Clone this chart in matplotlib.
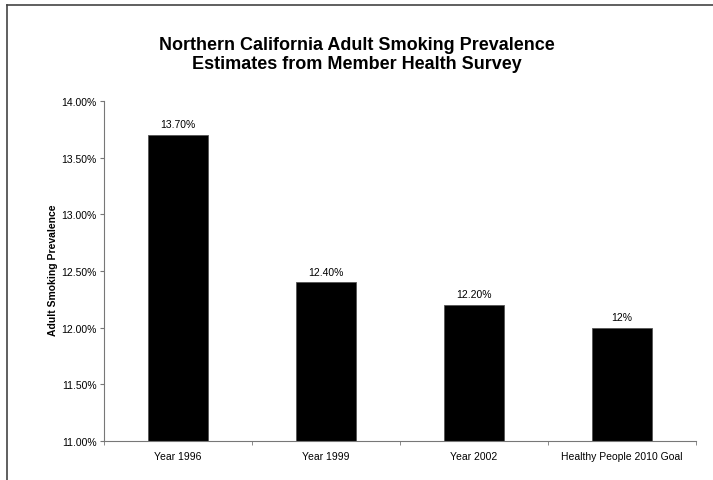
import matplotlib
matplotlib.use("Agg")
import matplotlib.pyplot as plt
from matplotlib.lines import Line2D
from matplotlib.ticker import FuncFormatter, FixedLocator

categories = ["Year 1996", "Year 1999", "Year 2002", "Healthy People 2010 Goal"]
values = [13.70, 12.40, 12.20, 12.00]
bar_labels = ["13.70%", "12.40%", "12.20%", "12%"]
yticks = [11.0, 11.5, 12.0, 12.5, 13.0, 13.5, 14.0]

plt.rcParams['font.family'] = ['Liberation Sans', 'DejaVu Sans']

fig = plt.figure(figsize=(7.13, 4.81), dpi=100)
ax = fig.add_axes([104/713, 1-442/481, (696-104)/713, (442-102)/481])

x = list(range(len(categories)))
ax.bar(x, [v - 11.0 for v in values], bottom=11.0, width=0.4, color='black',
       edgecolor='#555555', linewidth=0.6)
for xi, v, lab in zip(x, values, bar_labels):
    ax.annotate(lab, (xi, v), xytext=(0, 4), textcoords='offset points',
                ha='center', va='bottom', fontsize=7.5)

ax.set_xlim(-0.5, len(categories) - 0.5)
ax.set_ylim(11.0, 14.0)
ax.set_yticks(yticks)
ax.yaxis.set_major_formatter(FuncFormatter(lambda v, p: f"{v:.2f}%"))
ax.set_xticks(x)
ax.set_xticklabels(categories, fontsize=7.5)
ax.tick_params(axis='x', length=0, pad=7)
ax.xaxis.set_minor_locator(FixedLocator([i - 0.5 for i in range(len(categories) + 1)]))
ax.tick_params(axis='x', which='minor', length=3, color='#777777', direction='out')
ax.tick_params(axis='y', labelsize=7.5, length=3, pad=2.5, color='#777777', direction='out')
for s in ['top', 'right']:
    ax.spines[s].set_visible(False)
for s in ['left', 'bottom']:
    ax.spines[s].set_color('#777777')
    ax.spines[s].set_linewidth(0.8)
ax.set_ylabel("Adult Smoking Prevalence", fontsize=7.5, fontweight='bold')
ax.yaxis.set_label_coords(-(104 - 58) / 592, (442 - 270) / 340)

fig.text(0.5, 1-55/481, "Northern California Adult Smoking Prevalence\nEstimates from Member Health Survey",
         ha='center', va='center', fontsize=13, fontweight='bold', linespacing=1.1)

# frame lines (left and top)
fig.add_artist(Line2D([7/713, 7/713], [0, 1-6/481], transform=fig.transFigure, color='#444444', lw=1.2))
fig.add_artist(Line2D([7/713, 1], [1-6/481, 1-6/481], transform=fig.transFigure, color='#444444', lw=1.2))

fig.savefig("out.png", dpi=100, facecolor='white')
